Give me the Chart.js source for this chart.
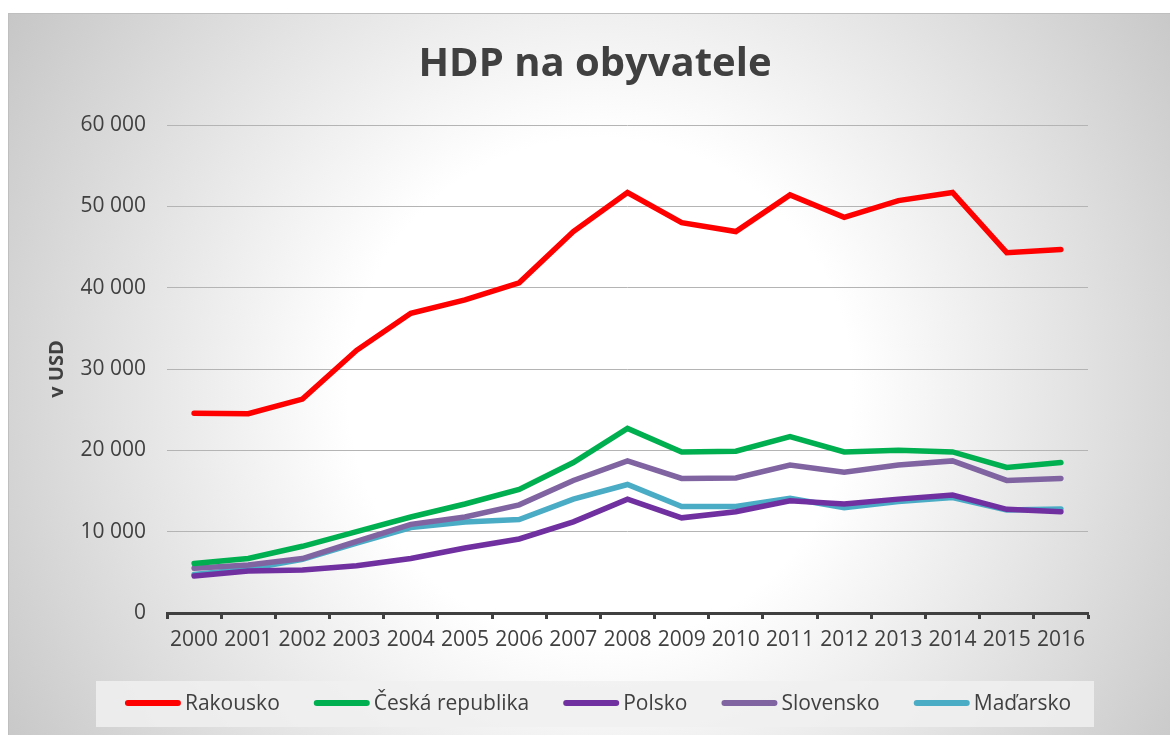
<!DOCTYPE html>
<html>
<head>
<meta charset="utf-8">
<script src="https://cdn.jsdelivr.net/npm/chart.js@4/dist/chart.umd.min.js"></script>
<style>
  html, body { margin: 0; padding: 0; background: #fff; }
  #wrap { width: 1170px; height: 735px; }
</style>
</head>
<body>
<div id="wrap"><canvas id="hdp" width="1170" height="735"></canvas></div>
<script>
// data (USD per inhabitant)
const years = ['2000', '2001', '2002', '2003', '2004', '2005', '2006', '2007', '2008',
               '2009', '2010', '2011', '2012', '2013', '2014', '2015', '2016'];
const rakousko  = [24550, 24500, 26300, 32300, 36850, 38500, 40600, 46900, 51700, 48000, 46900, 51400, 48650, 50700, 51700, 44300, 44700];
const cesko     = [6100, 6700, 8200, 10000, 11800, 13400, 15200, 18500, 22700, 19800, 19900, 21700, 19800, 20000, 19800, 17900, 18500];
const polsko    = [4550, 5150, 5300, 5800, 6700, 8000, 9100, 11200, 14000, 11700, 12450, 13800, 13400, 14000, 14500, 12750, 12450];
const slovensko = [5500, 5900, 6700, 8800, 10900, 11800, 13300, 16300, 18700, 16550, 16600, 18200, 17300, 18200, 18700, 16300, 16550];
const madarsko  = [4750, 5400, 6600, 8600, 10500, 11200, 11500, 14000, 15800, 13100, 13100, 14100, 12950, 13700, 14200, 12650, 12800];
const seriesNames = ['Rakousko', 'Česká republika', 'Polsko', 'Slovensko', "Maďarsko"];
const seriesColors = ['#ff0000', '#00b050', '#7030a0', '#8064a2', '#4bacc6'];
const chartTitle = 'HDP na obyvatele';

const textColor = '#404040';
const fontFam = '"Open Sans", "DejaVu Sans", sans-serif';

function ds(i, values) {
    return {
        label: seriesNames[i],
        data: values,
        borderColor: seriesColors[i],
        backgroundColor: seriesColors[i],
        borderWidth: 5.5,
        borderCapStyle: 'round',
        borderJoinStyle: 'miter',
        pointRadius: 0,
        tension: 0
    };
}

// frame with radial gradient behind everything, plus the title
const backdrop = {
    id: 'backdrop',
    beforeDraw(chart) {
        const c = chart.ctx;
        c.save();
        c.fillStyle = '#ffffff';
        c.fillRect(0, 0, chart.width, chart.height);
        const g = c.createRadialGradient(600, 390, 0, 600, 390, 720);
        g.addColorStop(0, '#ffffff');
        g.addColorStop(0.35, '#ffffff');
        g.addColorStop(1, '#c4c4c4');
        c.fillStyle = g;
        c.fillRect(8, 13, chart.width - 8, chart.height - 13);
        c.strokeStyle = '#bfbfbf';
        c.lineWidth = 1;
        c.strokeRect(8.5, 13.5, chart.width, chart.height);
        // title centred on the whole frame, like Excel does
        c.fillStyle = textColor;
        c.font = 'bold 40px ' + fontFam;
        c.textAlign = 'center';
        c.textBaseline = 'middle';
        c.fillText(chartTitle, 595, 65);
        c.restore();
    }
};

// legend drawn like the original: long line sample, text right after it
const lineLegend = {
    id: 'lineLegend',
    afterDraw(chart) {
        const c = chart.ctx;
        c.save();
        c.fillStyle = 'rgba(240,240,240,0.85)';
        c.fillRect(96, 681, 998, 46);
        c.font = '21px ' + fontFam;
        const lineLen = 56, gapText = 4, gapItem = 34;
        const items = chart.data.datasets.map(d => ({
            label: d.label, color: d.borderColor, w: c.measureText(d.label).width
        }));
        let total = 0;
        items.forEach((it, i) => {
            total += lineLen + gapText + it.w + (i < items.length - 1 ? gapItem : 0);
        });
        let x = 598 - total / 2;
        const y = 703;
        c.textBaseline = 'middle';
        c.textAlign = 'left';
        items.forEach(it => {
            c.strokeStyle = it.color;
            c.lineWidth = 6;
            c.lineCap = 'round';
            c.beginPath();
            c.moveTo(x + 3, y);
            c.lineTo(x + lineLen - 3, y);
            c.stroke();
            c.fillStyle = textColor;
            c.fillText(it.label, x + lineLen + gapText, y + 1);
            x += lineLen + gapText + it.w + gapItem;
        });
        c.restore();
    }
};

new Chart(document.getElementById('hdp'), {
    type: 'line',
    plugins: [backdrop, lineLegend],
    data: {
        labels: years,
        datasets: [
            ds(0, rakousko),
            ds(1, cesko),
            ds(2, polsko),
            ds(3, slovensko),
            ds(4, madarsko)
        ]
    },
    options: {
        responsive: false,
        animation: false,
        layout: { padding: { left: 0, right: 82, top: 125, bottom: 0 } },
        scales: {
            x: {
                offset: true,
                grid: {
                    offset: true,
                    drawOnChartArea: false,
                    drawTicks: true,
                    tickLength: 6,
                    tickWidth: 3,
                    tickColor: textColor
                },
                border: { display: true, color: textColor, width: 3 },
                ticks: {
                    color: textColor,
                    padding: 8,
                    maxRotation: 0,
                    autoSkip: false,
                    font: { family: fontFam, size: 21 }
                },
                afterFit(scale) {
                    scale.height = 122;
                    scale.paddingLeft = 0;
                    scale.paddingRight = 0;
                }
            },
            y: {
                min: 0,
                max: 60000,
                grid: {
                    color: '#b4b4b4',
                    lineWidth: 1,
                    drawTicks: false
                },
                border: { display: false },
                ticks: {
                    stepSize: 10000,
                    color: textColor,
                    padding: 21,
                    font: { family: fontFam, size: 21 },
                    callback: v => v === 0 ? '0' : String(v).replace(/\B(?=(\d{3})+(?!\d))/g, ' ')
                },
                title: {
                    display: true,
                    text: 'v USD',
                    color: textColor,
                    font: { family: fontFam, size: 20, weight: 'bold' },
                    padding: { top: 45, bottom: 0 }
                },
                afterFit(scale) {
                    scale.width = 167;
                }
            }
        },
        plugins: {
            legend: { display: false },
            tooltip: { enabled: false },
            title: { display: false }
        }
    }
});
</script>
</body>
</html>
